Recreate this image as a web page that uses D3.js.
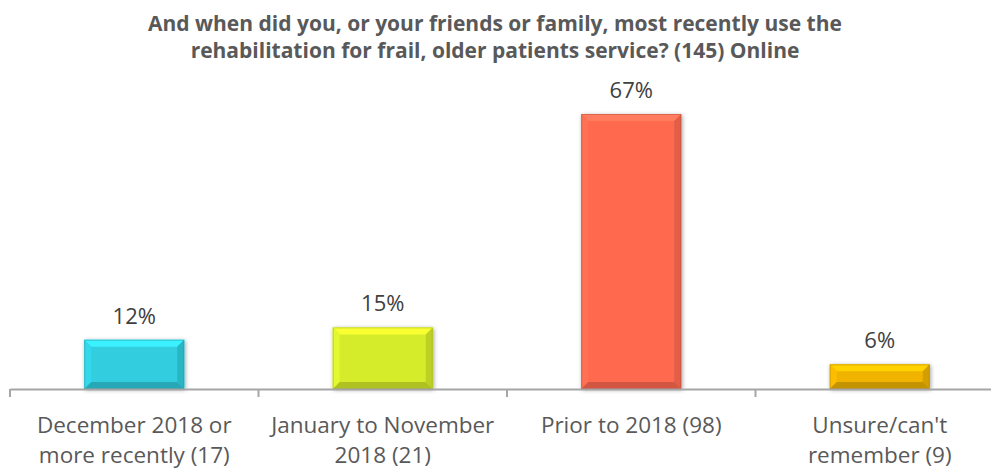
<!DOCTYPE html>
<html>
<head>
<meta charset="utf-8">
<script src="https://cdn.jsdelivr.net/npm/d3@7/dist/d3.min.js"></script>
<style>
  html, body { margin: 0; padding: 0; background: #fff; }
  svg { display: block; font-family: "Open Sans", "Noto Sans", sans-serif; }
</style>
</head>
<body>
<svg id="chart" width="991" height="470"></svg>
<script>
const titleLines = [
  "And when did you, or your friends or family, most recently use the",
  "rehabilitation for frail, older patients service? (145) Online"
];
const categories = [
  ["December 2018 or", "more recently (17)"],
  ["January to November", "2018 (21)"],
  ["Prior to 2018 (98)"],
  ["Unsure/can't", "remember (9)"]
];
const values = [12, 15, 67, 6];
const barColors = ["#31CDDF", "#D5EC2B", "#FF6A50", "#EFB300"];

const svg = d3.select("#chart");
const baseY = 389;

const x = d3.scaleBand().domain(d3.range(categories.length)).range([10, 1004]).paddingInner(0).paddingOuter(0);
const y = d3.scaleLinear().domain([0, 67]).range([baseY, 114]);

const barW = 100;

// Title
const title = svg.append("g");
titleLines.forEach((t, i) => {
  title.append("text")
    .attr("x", 495).attr("y", 31 + i * 27)
    .attr("text-anchor", "middle")
    .attr("font-weight", "bold")
    .attr("font-size", 21)
    .attr("fill", "#595959")
    .text(t);
});

const defs = svg.append("defs");
const shadow = defs.append("filter").attr("id", "shadow").attr("x", "-20%").attr("y", "-20%").attr("width", "140%").attr("height", "140%");
shadow.append("feGaussianBlur").attr("in", "SourceAlpha").attr("stdDeviation", 2);
shadow.append("feOffset").attr("dx", 1).attr("dy", 1).attr("result", "ob");
shadow.append("feComponentTransfer").append("feFuncA").attr("type", "linear").attr("slope", 0.35);
const mrg = shadow.append("feMerge");
mrg.append("feMergeNode");
mrg.append("feMergeNode").attr("in", "SourceGraphic");

// Bars with a beveled edge
const bars = svg.append("g");
values.forEach((v, i) => {
  const cx = x(i) + x.bandwidth() / 2;
  const x0 = cx - barW / 2, x1 = cx + barW / 2;
  const y0 = y(v), y1 = y(0);
  const b = Math.min(7, (y1 - y0) / 2.5);
  const c = d3.color(barColors[i]);
  const g = bars.append("g").attr("filter", "url(#shadow)");
  g.append("rect").attr("x", x0).attr("y", y0).attr("width", barW).attr("height", y1 - y0).attr("fill", c.formatHex());
  const poly = (pts, fill) => g.append("polygon").attr("points", pts.map(p => p.join(",")).join(" ")).attr("fill", fill);
  poly([[x0, y0], [x1, y0], [x1 - b, y0 + b], [x0 + b, y0 + b]], c.brighter(0.45).formatHex());
  poly([[x0, y0], [x0 + b, y0 + b], [x0 + b, y1 - b], [x0, y1]], c.brighter(0.15).formatHex());
  poly([[x1, y0], [x1, y1], [x1 - b, y1 - b], [x1 - b, y0 + b]], c.darker(0.35).formatHex());
  poly([[x0, y1], [x0 + b, y1 - b], [x1 - b, y1 - b], [x1, y1]], c.darker(0.55).formatHex());
  g.append("rect").attr("x", x0 + 0.5).attr("y", y0 + 0.5).attr("width", barW - 1).attr("height", y1 - y0 - 1)
    .attr("fill", "none").attr("stroke", c.darker(0.8).formatHex()).attr("stroke-opacity", 0.5);

  svg.append("text")
    .attr("x", cx).attr("y", y0 - 16)
    .attr("text-anchor", "middle")
    .attr("font-size", 22)
    .attr("fill", "#404040")
    .text(v + "%");
});

// Category axis
const axis = svg.append("g").attr("transform", `translate(0,${baseY})`)
  .call(d3.axisBottom(x).tickSize(0).tickFormat(""));
axis.select(".domain").attr("stroke", "#A6A6A6").attr("stroke-width", 2);
const tickXs = d3.range(categories.length + 1).map(i => 10 + i * x.step());
axis.selectAll(".sep").data(tickXs).join("line").attr("class", "sep")
  .attr("x1", d => d).attr("x2", d => d).attr("y1", 0).attr("y2", 8)
  .attr("stroke", "#A6A6A6").attr("stroke-width", 2);

categories.forEach((lines, i) => {
  const cx = x(i) + x.bandwidth() / 2;
  const t = svg.append("text")
    .attr("text-anchor", "middle")
    .attr("font-size", 22.5)
    .attr("fill", "#595959");
  lines.forEach((l, j) => {
    t.append("tspan").attr("x", cx).attr("y", 433 + j * 30).text(l);
  });
});
</script>
</body>
</html>
